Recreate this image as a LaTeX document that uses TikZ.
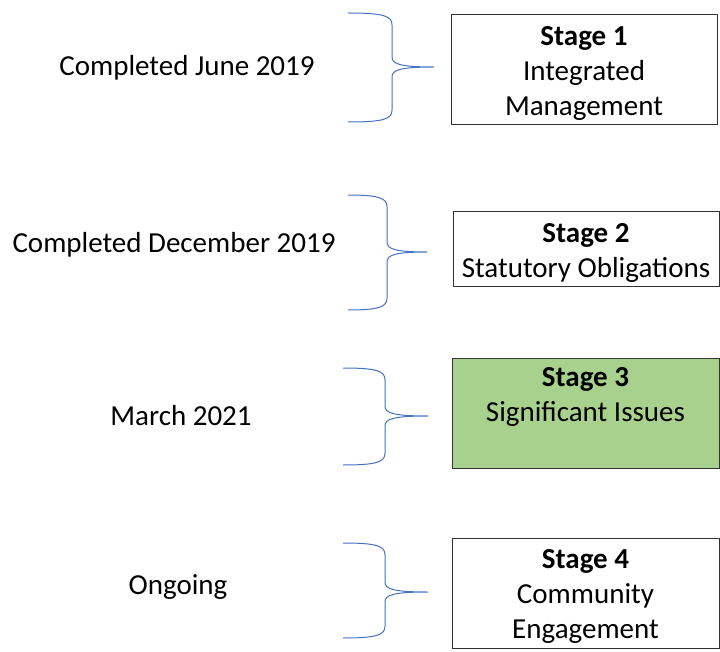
\documentclass[tikz,border=0pt]{standalone}
\usepackage{fontspec}
\setmainfont{Carlito}
\newcommand\mybrace[7]{%
  \draw[bracecurve] (#1,#4) .. controls ({#2-8},#4) and (#2,{#4+3}) .. (#2,{#4+12})
    -- (#2,{#5-10}) .. controls (#2,{#5-3}) and ({#2+8},#5) .. (#3,#5)
    .. controls ({#2+8},#5) and (#2,{#5+3}) .. (#2,{#5+10})
    -- (#2,{#6-12}) .. controls (#2,{#6-3}) and ({#2-8},#6) .. (#1,#6);
  \coordinate (#7) at (#3,#5);}
\begin{document}
\begin{tikzpicture}[x=1pt,y=-1pt,
  bracecurve/.style={draw={rgb,255:red,68;green,114;blue,196}, line width=1pt},
  stagebox/.style={draw=black!80, line width=1pt, inner sep=0pt, minimum width=266pt},
  stagetext/.style={align=center, inner sep=0pt, font=\fontsize{29}{35}\selectfont},
  datelabel/.style={font=\fontsize{29}{35}\selectfont, inner sep=0pt}]
\useasboundingbox (0,0) rectangle (720,652);
% labels
\node[datelabel] (d1) at (187,68) {Completed June 2019};
\node[datelabel] (d2) at (174,245) {Completed December 2019};
\node[datelabel] (d3) at (181,416) {March 2021};
\node[datelabel] (d4) at (178,587) {Ongoing};
% braces
\mybrace{348}{392}{434}{13}{67}{122}{t1}
\mybrace{348}{387}{427}{195}{252}{310}{t2}
\mybrace{343}{385}{428}{368}{416}{465}{t3}
\mybrace{343}{385}{428}{543}{592}{638}{t4}
% boxes
\node[stagebox, minimum height=110pt] (s1) at (584,70) {};
\node[stagebox, minimum height=75pt] (s2) at (586,249.5) {};
\node[stagebox, minimum height=110pt, minimum width=267pt, fill={rgb,255:red,169;green,209;blue,142}] (s3) at (585.5,413) {};
\node[stagebox, minimum height=110pt, minimum width=267pt] (s4) at (585.5,593) {};
% box texts
\node[stagetext, yshift=-3pt] (s1t) at (s1) {\textbf{Stage 1}\\Integrated\\Management};
\node[stagetext, yshift=-3pt] (s2t) at (s2) {\textbf{Stage 2}\\Statutory Obligations};
\node[stagetext, yshift=-4pt] (s3t) at (s3) {\textbf{Stage 3}\\Significant Issues\\\strut};
\node[stagetext, yshift=-3pt] (s4t) at (s4) {\textbf{Stage 4}\\Community\\Engagement};
\end{tikzpicture}
\end{document}
